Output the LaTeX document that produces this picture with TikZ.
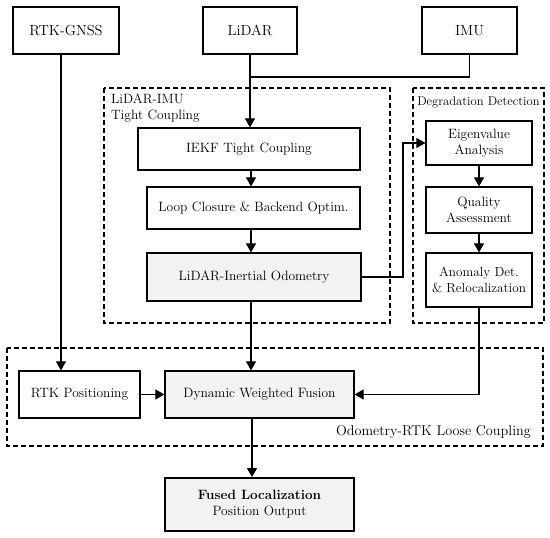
\documentclass[tikz,border=0pt]{standalone}
\usetikzlibrary{arrows.meta}
\definecolor{boxgray}{HTML}{F2F2F2}
\begin{document}
\begin{tikzpicture}[x=1pt,y=-1pt,
  every node/.style={font=\fontsize{13.5}{16}\selectfont, align=center, inner sep=0pt},
  src/.style={draw, line width=1.8pt, minimum width=94pt, minimum height=47pt, font=\fontsize{14.6}{17}\selectfont},
  blk/.style={draw, line width=1.2pt},
  grayblk/.style={blk, fill=boxgray},
  grp/.style={draw, line width=1.6pt, dash pattern=on 5pt off 3pt},
  conn/.style={line width=1.1pt},
  arr/.style={conn, -{Triangle[length=9pt,width=10pt]}}]
\useasboundingbox (0,0) rectangle (550,538);
% groups
\draw[grp] (104,88) rectangle (390,323);
\draw[grp] (413,88) rectangle (544,323);
\draw[grp] (7,348) rectangle (543,446);
\node[anchor=north west, align=left] (tightlbl) at (111,94) {LiDAR-IMU\\Tight Coupling};
\node[font=\fontsize{12.6}{15}\selectfont] (deglbl) at (478.5,102) {Degradation Detection};
\node[anchor=east, font=\fontsize{14.2}{16}\selectfont] (looselbl) at (531,432) {Odometry-RTK Loose Coupling};
% sources
\node[src, minimum width=106pt] (gnss) at (66,30.5) {RTK-GNSS};
\node[src] (lidar) at (250,30.5) {LiDAR};
\node[src, minimum width=95pt] (imu) at (469.5,30.5) {IMU};
% tight coupling
\node[blk, minimum width=222pt, minimum height=42pt] (iekf) at (249,149) {IEKF Tight Coupling};
\node[blk, minimum width=213pt, minimum height=42pt] (loop) at (253.5,208) {Loop Closure \& Backend Optim.};
\node[grayblk, minimum width=214pt, minimum height=48pt] (lio) at (254,277) {LiDAR-Inertial Odometry};
% degradation
\node[blk, minimum width=106pt, minimum height=44pt] (eig) at (479,143) {Eigenvalue\\Analysis};
\node[blk, minimum width=106pt, minimum height=46pt] (qual) at (479,210) {Quality\\Assessment};
\node[blk, minimum width=106pt, minimum height=54pt, font=\fontsize{13.2}{16}\selectfont] (anom) at (479,280) {Anomaly Det.\\\& Relocalization};
% loose coupling
\node[blk, minimum width=121pt, minimum height=47pt] (rtkpos) at (79.5,394.5) {RTK Positioning};
\node[grayblk, minimum width=189pt, minimum height=47pt] (dwf) at (259.5,394.5) {Dynamic Weighted Fusion};
\node[grayblk, line width=1.8pt, minimum width=189pt, minimum height=53pt] (fused) at (259.5,504.5) {\textbf{Fused Localization}\\Position Output};
% helper coordinates
\coordinate (colL) at (250,0);
\coordinate (colG) at (61,0);
\coordinate (colM) at (251,0);
\coordinate (joinY) at (0,77);
\coordinate (colV) at (403,0);
\coordinate (colF) at (252,0);
% connectors
\draw[arr] (lidar.south) -- (iekf.north -| colL);
\draw[conn] (imu.south) -- (imu.south |- joinY) -- (joinY -| colL);
\draw[arr] (iekf.south -| colM) -- (loop.north -| colM);
\draw[arr] (loop.south -| colM) -- (lio.north -| colM);
\draw[arr] (lio.east) -- (lio.east -| colV) -- (eig.west -| colV) -- (eig.west);
\draw[arr] (eig.south) -- (qual.north);
\draw[arr] (qual.south) -- (anom.north);
\draw[arr] (anom.south) -- (anom.south |- dwf.east) -- (dwf.east);
\draw[arr] (lio.south -| colM) -- (dwf.north -| colM);
\draw[arr] (gnss.south -| colG) -- (rtkpos.north -| colG);
\draw[arr] (rtkpos.east) -- (dwf.west);
\draw[arr] (dwf.south -| colF) -- (fused.north -| colF);
\end{tikzpicture}
\end{document}
